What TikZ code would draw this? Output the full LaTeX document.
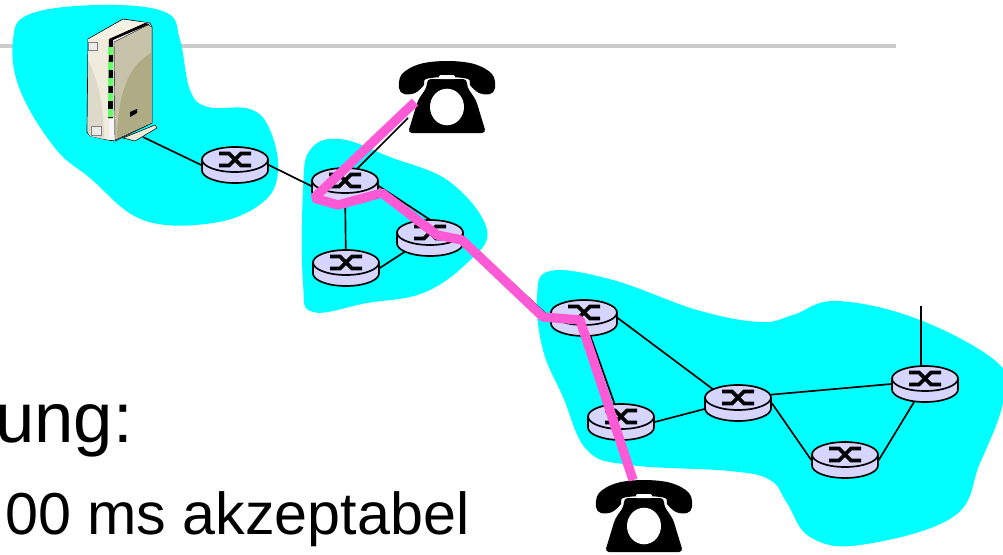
\documentclass[tikz,border=0pt]{standalone}
\usepackage{fontspec}
\setmainfont{Liberation Sans}
\usetikzlibrary{shapes.geometric}
\definecolor{cloud}{HTML}{00FFFF}
\definecolor{routerfill}{HTML}{D5D5FF}
\definecolor{callpink}{HTML}{FF5AD6}
\definecolor{rulegray}{HTML}{CCCCCC}
\begin{document}
\begin{tikzpicture}[
  x=0.75pt, y=-0.75pt,
  routerspot/.style={ellipse, minimum width=50.25pt, minimum height=27pt, inner sep=0pt},
  link/.style={draw, black, line width=1.25pt},
  call/.style={draw, callpink, line width=7pt, line join=bevel},
  bigtext/.style={font=\fontsize{53}{60}\selectfont, inner sep=0pt},
  subtext/.style={font=\fontsize{44.4}{52}\selectfont, inner sep=0pt},
  router/.pic={
    \draw[fill=routerfill, line width=1.25pt] (-33,-5.5) -- (-33,5.5) arc[x radius=33, y radius=12.5, start angle=180, end angle=0] -- (33,-5.5) -- cycle;
    \draw[fill=routerfill, line width=1.25pt] (0,-5.5) ellipse[x radius=33, y radius=12.5];
    \draw[line width=2.8pt] (-16,-11.5) -- (-6,-11.5) -- (6,0.5) -- (16,0.5);
    \draw[line width=2.8pt] (-16,0.5) -- (-6,0.5) -- (6,-11.5) -- (16,-11.5);
  },
  phone/.pic={
    \fill[black] plot[smooth cycle, tension=0.6] coordinates {(-48,-9) (-43,-3) (-32,-4) (-23,-12) (-21,-18) (0,-20) (21,-18) (23,-12) (32,-4) (43,-3) (48,-9) (45,-23) (27,-33) (0,-36) (-27,-33) (-45,-23)};
    \fill[black, rounded corners=3pt] (-20,-18) -- (-20,-10) -- (-29,3) -- (-39,36) -- (39,36) -- (29,3) -- (20,-10) -- (20,-18) -- cycle;
    \fill[white] (0,10) ellipse[x radius=17, y radius=18.3];
    \fill[white, rounded corners=1pt] (-8,-22) rectangle (8,-18);
  },
  modem/.pic={
    % body
    \draw[fill=black!3!white, draw=black, line width=0.5pt] (-32,-41) -- (3,-61) -- (30,-57) -- (32,-53) -- (32,43) -- (-5,61) -- (-12,60) -- (-30,56) -- (-33,52) -- cycle;
    \fill[fill={rgb,255:red,239;green,236;blue,222}] (-32,-41) -- (-11,-41) -- (-11,60) -- (-30,56) -- (-32,52) -- cycle;
    \fill[fill={rgb,255:red,221;green,218;blue,202}] (-32,-20) .. controls (-22,0) and (-17,20) .. (-16,59) -- (-30,56) -- (-32,52) -- cycle;
    \fill[fill={rgb,255:red,245;green,242;blue,228}] (-31,-41) -- (3,-60) -- (29,-57) -- (-11,-41) -- cycle;
    % front
    \fill[black] (-11,-41) -- (25,-57) -- (30,-56) -- (-7,-40) -- (-7,38) -- (-12,38) -- cycle;
    \fill[fill={rgb,255:red,198;green,195;blue,170}, draw=black, line width=0.3pt] (-6,-38) -- (28,-55) -- (32,-53) -- (32,43) -- (-5,60) -- cycle;
    \fill[fill={rgb,255:red,174;green,171;blue,133}] (31,-27) .. controls (10,-15) and (-2,10) .. (-3,58) -- (31,43) -- cycle;
    % lights
    \fill[green!60!white] (-12,-33) rectangle (-7,-25);
    \fill[green!60!white] (-12,-18) rectangle (-7,-10);
    \fill[green!60!white] (-12,-2) rectangle (-7,6);
    \fill[green!60!white] (-12,13) rectangle (-7,21);
    \fill[green!60!white] (-12,29) rectangle (-7,37);
    % slots
    \draw[fill=black!8!white, draw=black!50, line width=0.4pt] (-32,-38) rectangle (-23,-30);
    \draw[fill=black!8!white, draw=black!50, line width=0.4pt] (-29,46) rectangle (-19,55);
    \fill[black] (10,32) -- (17,29) -- (17,33) -- (10,37) -- cycle;
    % foot
    \draw[fill={rgb,255:red,237;green,234;blue,216}, line width=0.4pt] (3,58) -- (35,45) -- (37,48) -- (15,61) -- cycle;
  }
]
\useasboundingbox (0,0) rectangle (1003,554);

% rule and clouds
\draw[rulegray, line width=3pt] (0,46) -- (896,46);
\fill[cloud] plot[smooth cycle, tension=0.65] coordinates {(13,40) (30,14) (100,5) (165,12) (180,40) (190,90) (208,107) (250,109) (270,130) (278,172) (262,203) (213,223) (143,220) (90,178) (55,148) (20,90)};
\fill[cloud] plot[smooth cycle, tension=0.65] coordinates {(303,190) (310,150) (340,139) (390,157) (450,182) (487,230) (467,263) (423,293) (367,303) (313,312) (303,283)};
\fill[cloud] plot[smooth cycle, tension=0.65] coordinates {(537,297) (550,271) (613,280) (697,310) (760,322) (793,315) (837,301) (920,320) (1000,365) (1003,403) (980,463) (953,517) (860,545) (810,537) (787,503) (770,480) (730,471) (630,465) (587,450) (563,397) (543,350)};

% routers
\node[routerspot] (R1) at (235,165) {};
\node[routerspot] (R2) at (345,186) {};
\node[routerspot] (R3) at (430,238) {};
\node[routerspot] (R4) at (346,268) {};
\node[routerspot] (R5) at (584,318) {};
\node[routerspot] (R6) at (621,422) {};
\node[routerspot] (R7) at (738,403) {};
\node[routerspot] (R8) at (925,384) {};
\node[routerspot] (R9) at (845,460) {};
\coordinate (modemport) at (143,137);
\coordinate (phoneport) at (408,118);
\coordinate (R8stub) at (921,306);

\draw[link] (modemport) -- (R1.west);
\draw[link] (R1.east) -- (R2.west);
\draw[link] (phoneport) -- (R2.55);
\draw[link] (R2) -- (R4);
\draw[link] (R2.east) -- (R3.north);
\draw[link] (R4.east) -- (R3.south west);
\draw[link] (R3.east) -- (R5.west);
\draw[link] (R5) -- (R6);
\draw[link] (R5.east) -- (R7.north west);
\draw[link] (R6.east) -- (R7.190);
\draw[link] (R7.15) -- (R8.west);
\draw[link] (R7.east) -- (R9.west);
\draw[link] (R9.east) -- (R8);
\draw[link] (R8stub) -- (R8stub |- R8);

\pic at (R1) {router};
\pic at (R2) {router};
\pic at (R3) {router};
\pic at (R4) {router};
\pic at (R5) {router};
\pic at (R6) {router};
\pic at (R7) {router};
\pic at (R8) {router};
\pic at (R9) {router};

\pic at (120,80) {modem};
\pic at (447,97) {phone};
\pic at (644,516) {phone};

% the call
\coordinate (callA) at (415,102);
\coordinate (callB) at (314,198);
\coordinate (callC) at (338,205);
\coordinate (callD) at (382,193);
\coordinate (callE) at (437,235);
\coordinate (callF) at (462,240);
\coordinate (callG) at (543,317);
\coordinate (callH) at (580,320);
\coordinate (callI) at (633,480);
\draw[call] (callA) -- (callB) -- (callC) -- (callD) -- (callE) -- (callF) -- (callG) -- (callH) -- (callI);

\node[bigtext, anchor=base east] (heading) at (133,442) {ung:};
\node[subtext, anchor=base west] (limit) at (5,534) {00 ms akzeptabel};
\end{tikzpicture}
\end{document}
